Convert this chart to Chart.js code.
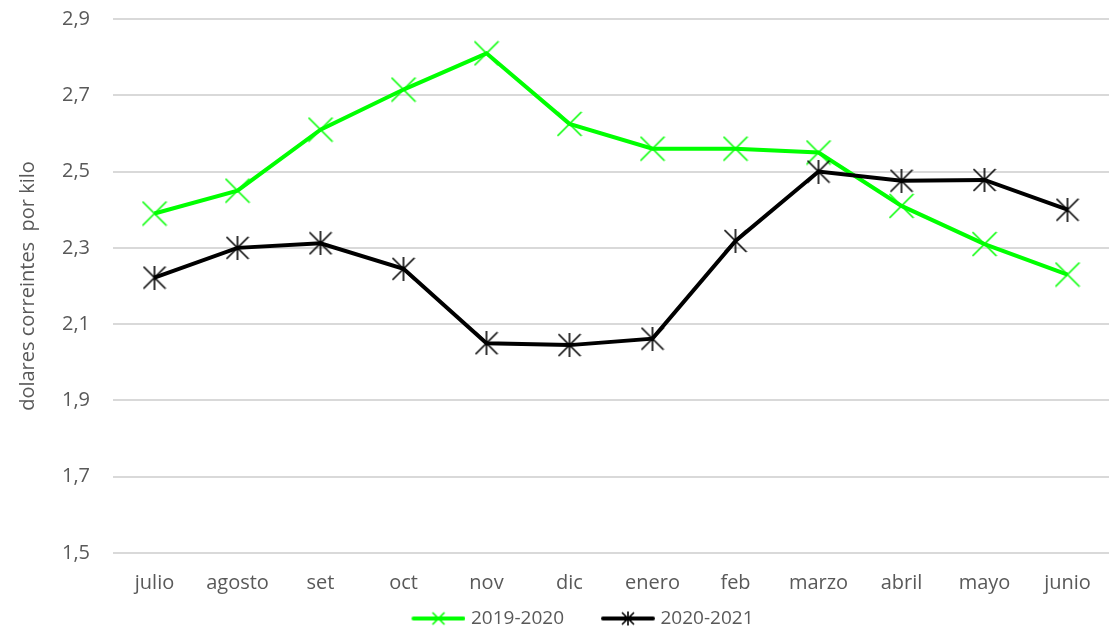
<!DOCTYPE html>
<html>
<head>
<meta charset="utf-8">
<script src="https://cdn.jsdelivr.net/npm/chart.js@4/dist/chart.umd.min.js"></script>
<style>
  html, body { margin: 0; padding: 0; background: #fff; }
  #wrap { width: 1117px; height: 632px; }
</style>
</head>
<body>
<div id="wrap"><canvas id="precioChart" width="1117" height="632"></canvas></div>
<script>
const months = ['julio', 'agosto', 'set', 'oct', 'nov', 'dic', 'enero', 'feb', 'marzo', 'abril', 'mayo', 'junio'];
const serie2019 = [2.39, 2.45, 2.61, 2.715, 2.81, 2.625, 2.56, 2.56, 2.55, 2.41, 2.31, 2.23];
const serie2020 = [2.222, 2.30, 2.312, 2.245, 2.05, 2.045, 2.062, 2.318, 2.50, 2.476, 2.478, 2.40];
const yTicks = [1.5, 1.7, 1.9, 2.1, 2.3, 2.5, 2.7, 2.9];

const GREEN = '#00ff00';
const TEXT = '#595959';
const FONT = 'Open Sans';

// marker images (Excel style x and asterisk)
function makeMarker(color, withVertical, size) {
    const c = document.createElement('canvas');
    c.width = size; c.height = size;
    const g = c.getContext('2d');
    const h = size / 2;
    g.strokeStyle = color;
    g.lineWidth = 1.6;
    g.beginPath();
    g.moveTo(1, 1); g.lineTo(size - 1, size - 1);
    g.moveTo(size - 1, 1); g.lineTo(1, size - 1);
    if (withVertical) {
        g.moveTo(h, 0); g.lineTo(h, size);
    }
    g.stroke();
    return c;
}

// legend icon: transparent lead-in (spacing between items) + line with marker
function makeLegendIcon(color, marker) {
    const c = document.createElement('canvas');
    c.width = 94; c.height = 20;
    const g = c.getContext('2d');
    g.strokeStyle = color;
    g.lineWidth = 4;
    g.lineCap = 'round';
    g.beginPath();
    g.moveTo(42, 10); g.lineTo(92, 10);
    g.stroke();
    g.drawImage(marker, 67 - marker.width / 2, 10 - marker.height / 2);
    return c;
}

const greenMark = makeMarker(GREEN, false, 26);
const blackMark = makeMarker('#000', true, 24);
const legendIcons = [
    makeLegendIcon(GREEN, makeMarker(GREEN, false, 14)),
    makeLegendIcon('#000', makeMarker('#000', true, 14))
];

// fixed legend height so it sits close under the month labels
const legendHeight = {
    id: 'legendHeight',
    beforeLayout(chart) {
        const lg = chart.legend;
        if (lg && !lg._patched) {
            const fit = lg.fit;
            lg.fit = function() {
                fit.call(this);
                this.height = 24;
            };
            lg._patched = true;
        }
    }
};

const ctx = document.getElementById('precioChart').getContext('2d');
new Chart(ctx, {
    type: 'line',
    data: {
        labels: months,
        datasets: [{
            label: '2019-2020',
            data: serie2019,
            borderColor: GREEN,
            backgroundColor: GREEN,
            borderWidth: 4,
            pointStyle: greenMark,
            tension: 0,
            order: 1
        }, {
            label: '2020-2021',
            data: serie2020,
            borderColor: '#000',
            backgroundColor: '#000',
            borderWidth: 4,
            pointStyle: blackMark,
            tension: 0,
            order: 0
        }]
    },
    plugins: [legendHeight],
    options: {
        responsive: false,
        animation: false,
        layout: { padding: { left: 16, right: 4, top: 19, bottom: 0 } },
        plugins: {
            tooltip: { enabled: false },
            legend: {
                position: 'bottom',
                labels: {
                    color: TEXT,
                    font: { family: FONT, size: 19 },
                    usePointStyle: true,
                    pointStyleWidth: 86,
                    boxHeight: 18,
                    padding: 1,
                    generateLabels: function(chart) {
                        return chart.data.datasets.map((ds, i) => ({
                            text: ds.label,
                            pointStyle: legendIcons[i],
                            fillStyle: ds.borderColor,
                            strokeStyle: ds.borderColor,
                            lineWidth: 0,
                            fontColor: TEXT,
                            datasetIndex: i,
                            hidden: false
                        }));
                    }
                }
            }
        },
        scales: {
            x: {
                offset: true,
                grid: { display: false, drawTicks: false },
                border: { display: false },
                afterFit: function(scale) {
                    scale.height = 55;
                },
                ticks: {
                    color: TEXT,
                    font: { family: FONT, size: 20, lineHeight: 1.2 },
                    padding: 18,
                    maxRotation: 0
                }
            },
            y: {
                min: 1.5,
                max: 2.9,
                afterBuildTicks: function(scale) {
                    scale.ticks = yTicks.map(v => ({ value: v }));
                },
                afterFit: function(scale) {
                    scale.width = 113 - 16;
                },
                grid: { color: '#d9d9d9', lineWidth: 2, drawTicks: true, tickLength: 23, tickColor: 'rgba(0,0,0,0)' },
                border: { display: false },
                ticks: {
                    color: TEXT,
                    font: { family: FONT, size: 20, lineHeight: 1.2 },
                    padding: 0,
                    callback: v => v.toFixed(1).replace('.', ',')
                },
                title: {
                    display: true,
                    text: 'dolares correintes  por kilo',
                    color: TEXT,
                    font: { family: FONT, size: 20 },
                    padding: 0
                }
            }
        }
    }
});
</script>
</body>
</html>
